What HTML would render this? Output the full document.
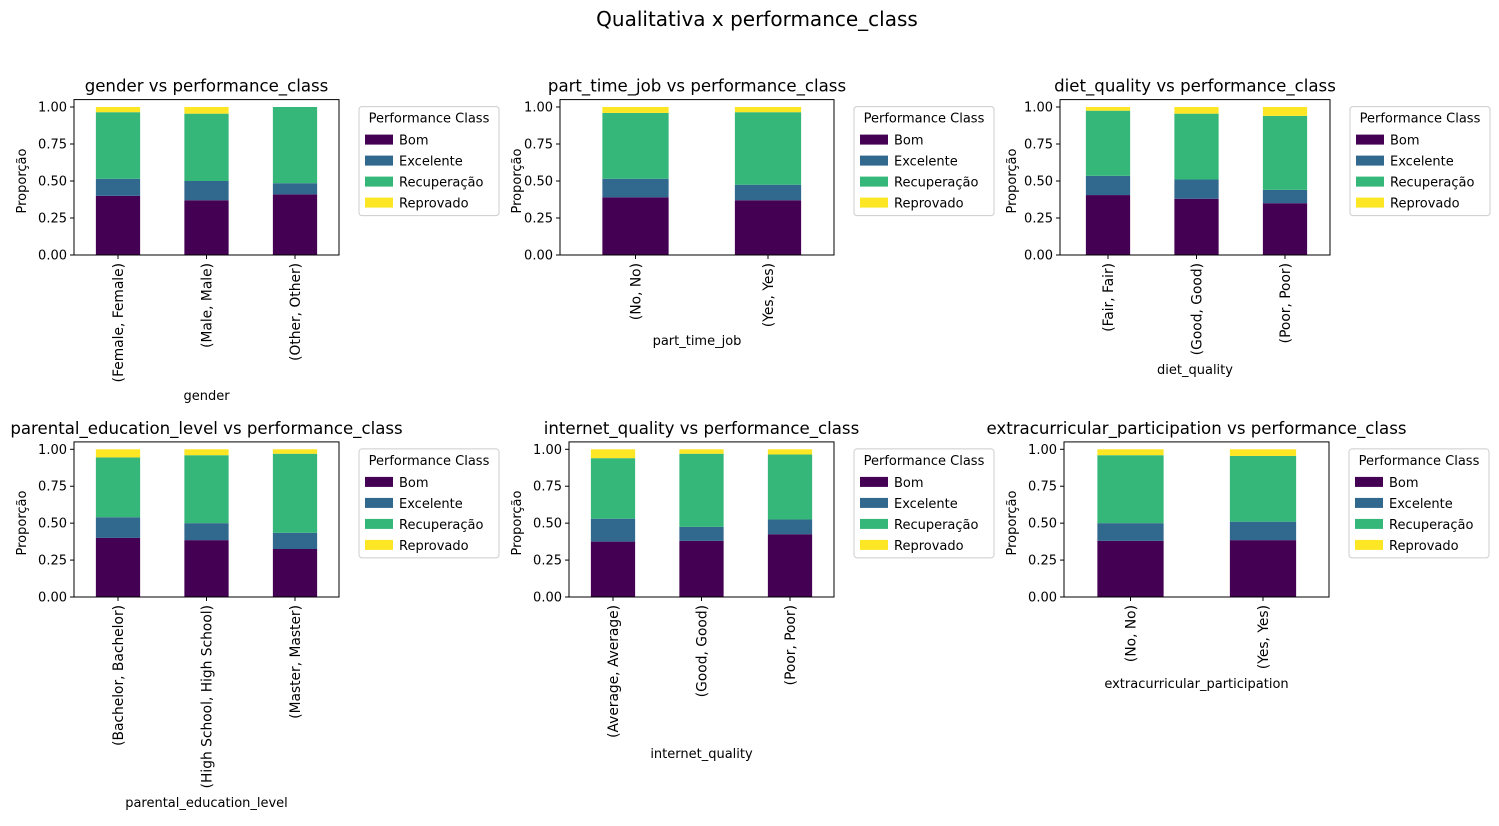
<!DOCTYPE html>
<html><head><meta charset="utf-8">
<style>
body{margin:0;background:#fff;}
svg{font-family:"DejaVu Sans","Liberation Sans",sans-serif;}
</style></head>
<body>
<svg id="chart" width="1499" height="821" xmlns="http://www.w3.org/2000/svg">
<text x="757" y="26" text-anchor="middle" font-size="20">Qualitativa x performance_class</text>
</svg>
<script>
const classes = ["Bom","Excelente","Recuperação","Reprovado"];
const colors = ["#440154","#31688e","#35b779","#fde725"];
const yTicks = [0,0.25,0.5,0.75,1.0];
const yTickLabels = ["0.00","0.25","0.50","0.75","1.00"];

const genderCats = ["(Female, Female)","(Male, Male)","(Other, Other)"];
const genderVals = [[0.40,0.37,0.41],[0.115,0.13,0.075],[0.45,0.455,0.515],[0.035,0.045,0.0]];
const ptjCats = ["(No, No)","(Yes, Yes)"];
const ptjVals = [[0.39,0.37],[0.125,0.105],[0.445,0.49],[0.04,0.035]];
const dietCats = ["(Fair, Fair)","(Good, Good)","(Poor, Poor)"];
const dietVals = [[0.405,0.38,0.35],[0.13,0.13,0.09],[0.44,0.445,0.5],[0.025,0.045,0.06]];
const parCats = ["(Bachelor, Bachelor)","(High School, High School)","(Master, Master)"];
const parVals = [[0.40,0.385,0.325],[0.14,0.115,0.11],[0.405,0.46,0.535],[0.055,0.04,0.03]];
const netCats = ["(Average, Average)","(Good, Good)","(Poor, Poor)"];
const netVals = [[0.375,0.38,0.425],[0.155,0.095,0.10],[0.41,0.495,0.44],[0.06,0.03,0.035]];
const extCats = ["(No, No)","(Yes, Yes)"];
const extVals = [[0.38,0.385],[0.12,0.125],[0.46,0.445],[0.04,0.045]];

const panels = [
 {name:"gender",cats:genderCats,vals:genderVals,L:74,R:339,c0:118,u:88.5,y0:255,S:148,yl:22,xl:400},
 {name:"part_time_job",cats:ptjCats,vals:ptjVals,L:560,R:834,c0:635.5,u:132.5,y0:255,S:148,yl:517,xl:345},
 {name:"diet_quality",cats:dietCats,vals:dietVals,L:1060,R:1330,c0:1108,u:88.5,y0:255,S:148,yl:1012,xl:374},
 {name:"parental_education_level",cats:parCats,vals:parVals,L:74,R:339,c0:118,u:88.5,y0:597,S:147.7,yl:22,xl:807},
 {name:"internet_quality",cats:netCats,vals:netVals,L:569,R:834,c0:613,u:88.5,y0:597,S:147.7,yl:517,xl:758},
 {name:"extracurricular_participation",cats:extCats,vals:extVals,L:1064,R:1329,c0:1130.5,u:132.5,y0:597,S:147.7,yl:1012,xl:688}
];
const svg = document.getElementById('chart');
const NS = "http://www.w3.org/2000/svg";
function mk(tag, attrs, parent){const e=document.createElementNS(NS,tag);for(const k in attrs)e.setAttribute(k,attrs[k]);(parent||svg).appendChild(e);return e;}
panels.forEach(p=>{
  const W=p.R-p.L, S=p.S;
  const g=mk('g',{});
  
  
  const xs=i=>p.c0+i*p.u;
  const ys=v=>p.y0-v*S;
  const bw=p.u/2;
  p.cats.forEach((c,i)=>{
    let base=0;
    classes.forEach((cl,k)=>{
      const v=p.vals[k][i];
      const r=mk('rect',{x:xs(i)-bw/2,y:ys(base+v),width:bw,height:v*S,fill:colors[k]},g);
      
      
      base+=v;
    });
    mk('line',{x1:xs(i),x2:xs(i),y1:p.y0,y2:p.y0+4,stroke:'#000'},g);
    const t=mk('text',{x:0,y:0,'font-size':13.8,'text-anchor':'end',transform:`translate(${xs(i)+4.8},${p.y0+8}) rotate(-90)`},g);
    t.textContent=c;
    
    
  });
  yTicks.forEach((v,j)=>{
    mk('line',{x1:p.L-4,x2:p.L,y1:ys(v),y2:ys(v),stroke:'#000'},g);
    const t=mk('text',{x:p.L-7,y:ys(v)+4.5,'font-size':13,'text-anchor':'end'},g);
    t.textContent=yTickLabels[j];
    
    
  });
  const top=ys(1.05);
  const fr=mk('rect',{x:p.L,y:top,width:W,height:p.y0-top,fill:'none',stroke:'#000','stroke-width':1},g);
  
  
  const tt=mk('text',{x:p.L+W/2,y:top-8,'font-size':16.6,'text-anchor':'middle'},g);
  tt.textContent=p.name+' vs performance_class';
  
  
  const yl=mk('text',{x:0,y:0,'font-size':13,'text-anchor':'middle',transform:`translate(${p.yl+4},${p.y0-74}) rotate(-90)`},g);
  yl.textContent='Proporção';
  
  
  const xl=mk('text',{x:p.L+W/2,y:p.xl,'font-size':13,'text-anchor':'middle'},g);
  xl.textContent=p.name;
  
  
  const lx=p.R+20, ly=top+7;
  const lg=mk('g',{},g);
  
  
  mk('rect',{x:lx,y:ly,width:140,height:109,rx:3,fill:'#fff',stroke:'#ccc'},lg);
  const lt=mk('text',{x:lx+70,y:ly+16,'font-size':13,'text-anchor':'middle'},lg);
  lt.textContent='Performance Class';
  classes.forEach((cl,k)=>{
    const yy=ly+33+k*21;
    mk('rect',{x:lx+6,y:yy-5,width:28,height:10,fill:colors[k]},lg);
    const et=mk('text',{x:lx+40,y:yy+5,'font-size':13},lg);
    et.textContent=cl;
    
    
  });
});
</script>
</body></html>
